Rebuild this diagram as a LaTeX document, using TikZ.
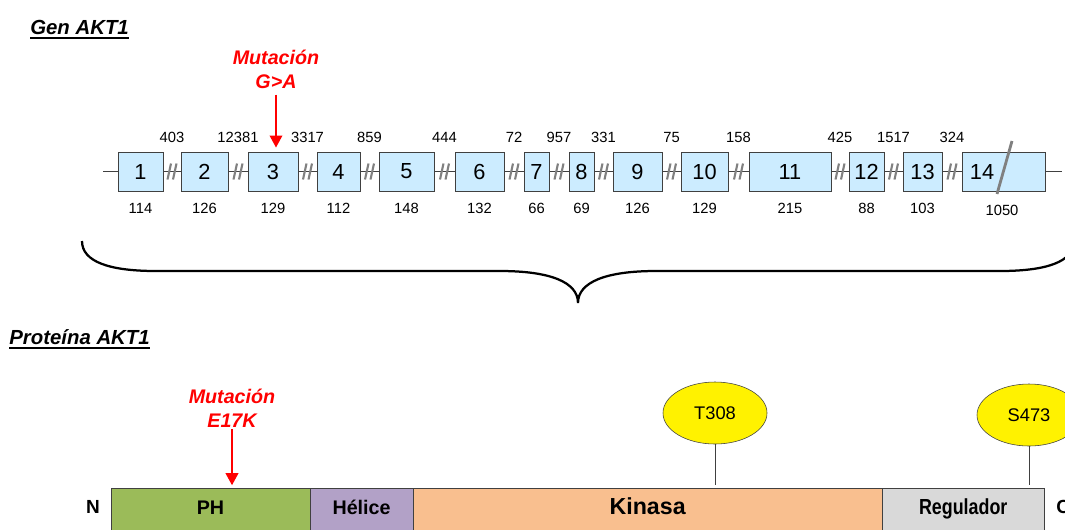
\documentclass[tikz,border=0pt]{standalone}
\usepackage{fontspec}
\setmainfont{Liberation Sans}
\newfontfamily\narrowsf{Liberation Sans}[FakeStretch=0.82]
\usetikzlibrary{calc}
\usetikzlibrary{shapes.geometric}
\usetikzlibrary{arrows.meta}

\definecolor{exonblue}{HTML}{CCECFF}
\definecolor{linegray}{HTML}{404040}
\definecolor{breakgray}{HTML}{808080}
\definecolor{phgreen}{HTML}{9BBB59}
\definecolor{helixpurple}{HTML}{B2A1C7}
\definecolor{kinaseorange}{HTML}{F9BF8F}
\definecolor{reggray}{HTML}{D9D9D9}

\begin{document}
\begin{tikzpicture}[x=0.025cm, y=-0.025cm,
	exon/.style={draw=linegray, fill=exonblue, minimum height=0.975cm, inner sep=0pt, font=\fontsize{15.5}{18}\selectfont},
	num/.style={font=\fontsize{10.5}{12}\selectfont, inner sep=0pt},
	title/.style={font=\fontsize{14.5}{17}\selectfont\bfseries\itshape, inner sep=0pt, anchor=base west},
	mut/.style={font=\fontsize{14}{17}\selectfont\bfseries\itshape, text=red, align=center, inner sep=0pt, anchor=south},
	mutarrow/.style={red, line width=1pt, -{Triangle[width=9pt,length=8.5pt]}},
	protbox/.style={draw=linegray, anchor=north west, outer sep=0pt, minimum height=1.15cm, inner sep=0pt, text height=10pt, text depth=5.5pt, font=\fontsize{14}{16}\selectfont\bfseries},
	site/.style={ellipse, draw=linegray, fill=yellow, minimum width=2.6cm, minimum height=1.55cm, inner sep=0pt, font=\fontsize{13}{15}\selectfont},
]
	\useasboundingbox (0,0) rectangle (1065,529);

	%Gene: titles and the line the exons sit on
	\node[title] (gentitle) at (30,34) {Gen AKT1};
	\draw[line width=1.4pt] ($(gentitle.base west)+(0,4)$) -- ($(gentitle.base east)+(0,4)$);
	\coordinate (gstart) at (103,171.5);
	\coordinate (gend) at (1062,171.5);
	\draw[linegray] (gstart) -- (gend);

	%Exons with their lengths below
	\foreach \n/\x/\w/\exlen in {1/140.5/1.125/114, 2/204.5/1.175/126, 3/273/1.25/129, 4/338.5/1.075/112, 5/406.5/1.375/148, 6/479.5/1.225/132, 7/536.5/0.625/66, 8/581.5/0.625/69, 9/637.5/1.225/126, 10/704.5/1.175/129, 11/790/2.05/215, 12/866.5/0.875/88, 13/922.5/0.975/103}{
		\node[exon, minimum width=\w cm] (e\n) at (\x,171.5) {\n};
		\node[num] (len\n) at (\x,208) {\exlen};
	}
	\node[exon, minimum width=2.075cm] (e14) at (1003.5,171.5) {};
	\node[inner sep=0pt, font=\fontsize{15.5}{18}\selectfont] (n14) at (982,171.5) {14};
	\node[num] (len14) at (1002,210) {1050};
	\draw[breakgray, line width=2pt] (997,194) -- (1012,141);

	%Introns: break marks and lengths above
	\foreach \a/\b/\ilen in {1/2/403, 2/3/12381, 3/4/3317, 4/5/859, 5/6/444, 6/7/72, 7/8/957, 8/9/331, 9/10/75, 10/11/158, 11/12/425, 12/13/1517, 13/14/324}{
		\coordinate (g\a) at ($(e\a.east)!0.5!(e\b.west)$);
		\draw[breakgray, line width=1.5pt] ($(g\a)+(-4.5,8)$) -- ($(g\a)+(-1,-8)$)
			($(g\a)+(1,8)$) -- ($(g\a)+(4.5,-8)$);
		\node[num] (i\a) at ($(g\a)+(0,-34.5)$) {\ilen};
	}

	%Mutation in exon 3
	\node[mut] (mutgene) at (276,89) {Mutación\\G>A};
	\draw[mutarrow, shorten <=4pt, shorten >=3pt] (mutgene.south) -- (mutgene.south |- e3.north);

	%Brace from gene to protein
	\draw[line width=1.6pt] (82,241) .. controls (82,262) and (110,271) .. (156,271) -- (500,271)
		.. controls (550,271) and (578,282) .. (578,303)
		.. controls (578,282) and (606,271) .. (656,271) -- (1000,271)
		.. controls (1046,271) and (1074,262) .. (1074,241);

	%Protein domains
	\node[title] (prottitle) at (9,344) {Proteína AKT1};
	\draw[line width=1.4pt] ($(prottitle.base west)+(0,4)$) -- ($(prottitle.base east)+(0,4)$);

	\node[protbox, fill=phgreen, minimum width=4.975cm] (ph) at (111,488) {PH};
	\node[protbox, fill=helixpurple, minimum width=2.575cm] (helix) at (ph.north east) {Hélice};
	\node[protbox, fill=kinaseorange, minimum width=11.725cm, font=\fontsize{16.5}{18}\selectfont\bfseries] (kinase) at (helix.north east) {Kinasa};
	\node[protbox, fill=reggray, minimum width=4.05cm, font=\narrowsf\fontsize{15.5}{18}\selectfont\bfseries] (reg) at (kinase.north east) {Regulador};
	\node[font=\fontsize{13.5}{16}\selectfont\bfseries, anchor=base, inner sep=0pt] (nterm) at (93,513) {N};
	\node[font=\fontsize{13.5}{16}\selectfont\bfseries, anchor=base west, inner sep=0pt] (cterm) at (1056,513) {C};

	%Phosphorylation sites
	\node[site] (t308) at (715,413) {T308};
	\node[site] (s473) at (1029,415) {S473};
	\draw[linegray] (t308.south) -- ([yshift=2pt]t308.south |- kinase.north);
	\draw[linegray] (s473.south) -- ([yshift=2pt]s473.south |- reg.north);

	%Mutation in the PH domain
	\node[mut] (mutprot) at (232,428) {Mutación\\E17K};
	\draw[mutarrow, shorten <=1pt, shorten >=2pt] (mutprot.south) -- (mutprot.south |- ph.north);

\end{tikzpicture}
\end{document}
